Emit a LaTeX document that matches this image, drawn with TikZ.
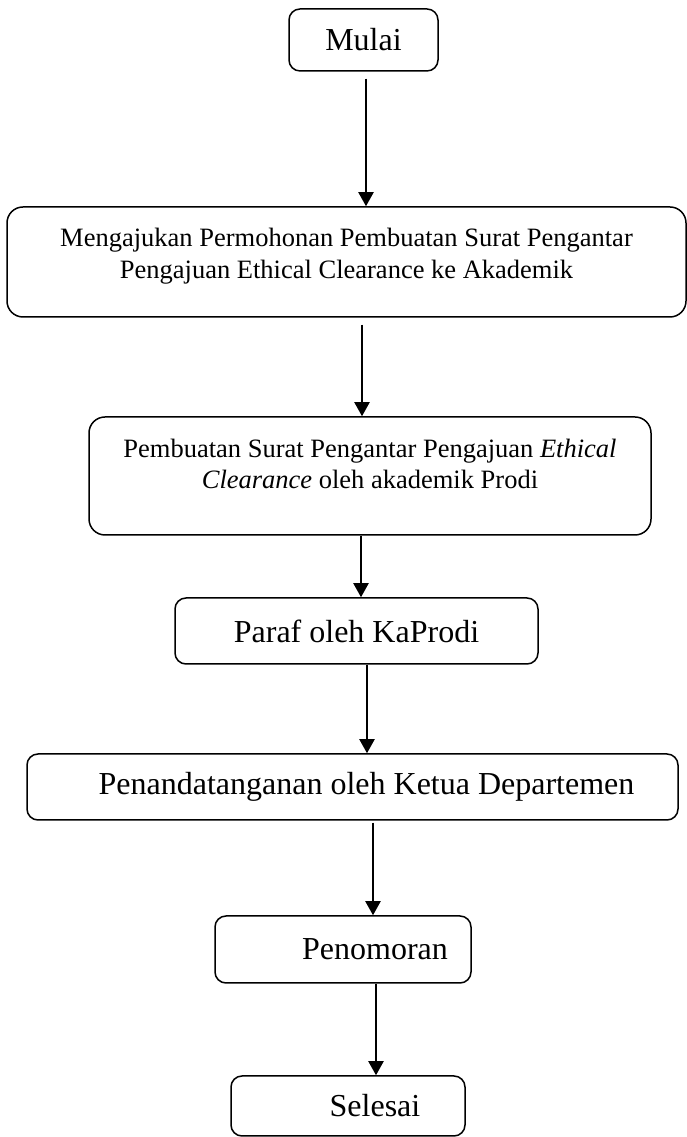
\documentclass[tikz,border=0pt]{standalone}
\usepackage{fontspec}
\setmainfont{Liberation Serif}
\usetikzlibrary{arrows.meta,calc,positioning}
\newcommand{\padbelow}[1]{\rule[-#1]{0pt}{#1}}

\begin{document}
\begin{tikzpicture}[
  x=1pt, y=1pt,
  >={Triangle[length=14pt,width=15pt]},
  stepbox/.style={draw=black, line width=1.5pt, rounded corners=11pt, inner sep=0pt, align=center, font=\fontsize{32}{38}\selectfont},
  longbox/.style={stepbox, rounded corners=16pt, font=\fontsize{26.5}{32}\selectfont},
  flow/.style={->, line width=2pt, draw=black}
]
  \useasboundingbox (0,0) rectangle (687,1137);

  \node[stepbox, minimum width=149pt, minimum height=62pt] (start) at (363.5,1097) {Mulai};
  \node[longbox, minimum width=679pt, minimum height=110pt] (req) at (346.5,875)
    {Mengajukan Permohonan Pembuatan Surat Pengantar\\Pengajuan Ethical Clearance ke Akademik\padbelow{18pt}};
  \node[longbox, font=\fontsize{26.5}{31}\selectfont, minimum width=562pt, minimum height=118pt] (make) at (370,661)
    {Pembuatan Surat Pengantar Pengajuan \textit{Ethical}\\\textit{Clearance} oleh akademik Prodi\padbelow{24pt}};
  \node[stepbox, minimum width=363pt, minimum height=66pt] (paraf) at (356.5,506) {Paraf oleh KaProdi};
  \node[stepbox, minimum width=651pt, minimum height=66pt] (sign) at (352.5,350) {\hspace*{28pt}Penandatanganan oleh Ketua Departemen};
  \node[stepbox, minimum width=256pt, minimum height=67pt] (number) at (343,187.5) {\hspace*{64pt}Penomoran};
  \node[stepbox, minimum width=234pt, minimum height=60pt] (finish) at (348,31) {\hspace*{54pt}Selesai};

  \draw[flow] ([shift={(2.5,-7)}]start.south) coordinate (a1) -- (a1 |- req.north);
  \draw[flow] ([shift={(15.5,-7)}]req.south) coordinate (a2) -- (a2 |- make.north);
  \draw[flow] ([xshift=-9pt]make.south) coordinate (a3) -- (a3 |- paraf.north);
  \draw[flow] ([xshift=10.5pt]paraf.south) coordinate (a4) -- (a4 |- sign.north);
  \draw[flow] ([shift={(20.5,-2)}]sign.south) coordinate (a5) -- (a5 |- number.north);
  \draw[flow] ([xshift=33pt]number.south) coordinate (a6) -- (a6 |- finish.north);
\end{tikzpicture}
\end{document}
